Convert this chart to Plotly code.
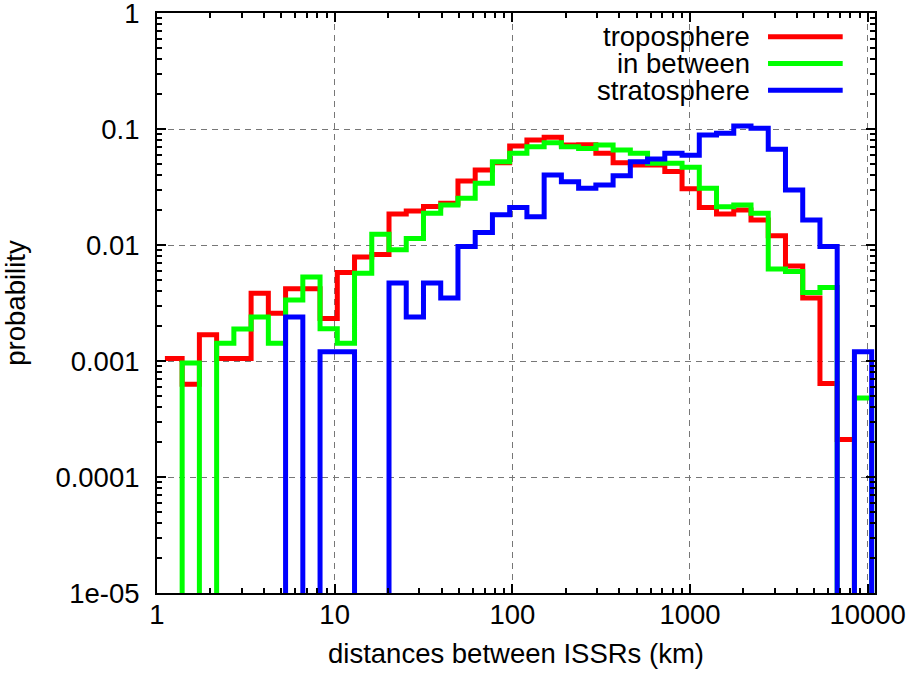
import numpy as np
import plotly.graph_objects as go

# ---- data ----
first_edge_km = 1.108
last_edge_km = 10535.0
n_bins = 41

troposphere = [0.00105, 0.00063, 0.00168, 0.00105, 0.00105, 0.00383, 0.00258, 0.0042, 0.0042, 0.00233,
               0.0058, 0.0079, 0.0083, 0.0185, 0.0196, 0.0215, 0.0229, 0.0356, 0.0443, 0.0513,
               0.0714, 0.0804, 0.0848, 0.0728, 0.073, 0.0617, 0.0513, 0.049, 0.049, 0.043,
               0.0305, 0.021, 0.0185, 0.020, 0.0164, 0.012, 0.0066, 0.0035, 0.00064, 0.00021,
               0.0]
in_between = [0.0, 0.00096, 0.0, 0.00142, 0.00189, 0.0024, 0.00142, 0.00336, 0.0053, 0.0019,
              0.00142, 0.0057, 0.0124, 0.0091, 0.0114, 0.0188, 0.0221, 0.0253, 0.034, 0.0523,
              0.0617, 0.0704, 0.0762, 0.0704, 0.068, 0.0728, 0.0658, 0.0617, 0.0506, 0.0506,
              0.0468, 0.0308, 0.0214, 0.0221, 0.0188, 0.0062, 0.0059, 0.0039, 0.0043, 0.0,
              0.00048]
stratosphere = [0.0, 0.0, 0.0, 0.0, 0.0, 0.0, 0.0, 0.0024, 0.0, 0.0012,
                0.0012, 0.0, 0.0, 0.0047, 0.0024, 0.0047, 0.0035, 0.0097, 0.0128, 0.0182,
                0.0211, 0.0175, 0.0401, 0.0351, 0.0308, 0.0329, 0.0395, 0.0523, 0.055, 0.0617,
                0.0595, 0.0888, 0.0918, 0.106, 0.1014, 0.0668, 0.0298, 0.0164, 0.0097, 0.0,
                0.0012]

series_names = ["troposphere", "in between", "stratosphere"]
series_colors = ["#ff0000", "#00ff00", "#0000ff"]

x_tick_vals = [1, 10, 100, 1000, 10000]
x_tick_text = ["1", "10", "100", "1000", "10000"]
y_tick_vals = [1e-5, 1e-4, 1e-3, 1e-2, 1e-1, 1]
y_tick_text = ["1e-05", "0.0001", "0.001", "0.01", "0.1", "1"]

# ---- figure ----
edges = np.geomspace(first_edge_km, last_edge_km, n_bins + 1)
FLOOR = 1e-9  # empty bins drop below the visible range
FONT = "Liberation Sans, Arial, Helvetica, sans-serif"
FS = 27.5

fig = go.Figure()
for name, vals, col in zip(series_names, [troposphere, in_between, stratosphere], series_colors):
    y = [v if v > 0 else FLOOR for v in vals] + [FLOOR]
    fig.add_trace(go.Scatter(x=edges, y=y, mode="lines", line_shape="hv",
                             line=dict(color=col, width=5), name=name, showlegend=False))

# gnuplot-style key: right-aligned text followed by a line sample
key_y = [0.959, 0.913, 0.867]
for name, col, ky in zip(series_names, series_colors, key_y):
    fig.add_annotation(x=0.829, y=ky, xref="paper", yref="paper", text=name, showarrow=False,
                       xanchor="right", yanchor="middle", font=dict(family=FONT, size=FS, color="black"))
    fig.add_shape(type="line", xref="paper", yref="paper", x0=0.851, x1=0.955, y0=ky, y1=ky,
                  line=dict(color=col, width=5))

axis_common = dict(
    showline=True, linecolor="black", linewidth=2, mirror="ticks",
    ticks="inside", ticklen=9, tickwidth=1.5, tickcolor="black",
    showgrid=True, gridcolor="#777777", gridwidth=1.3, griddash="6px,5px",
    zeroline=False, tickfont=dict(family=FONT, size=FS, color="black"),
    ticklabeloverflow="allow",
    minor=dict(ticks="inside", ticklen=5, tickwidth=1.5, tickcolor="black", dtick="D1", showgrid=False),
)

fig.update_xaxes(type="log", range=[0, np.log10(11000)], tickmode="array",
                 tickvals=x_tick_vals, ticktext=x_tick_text, ticklabelstandoff=-4,
                 title=dict(text="distances between ISSRs (km)", font=dict(family=FONT, size=FS, color="black"),
                            standoff=15),
                 **axis_common)
fig.update_yaxes(type="log", range=[-5, 0], tickmode="array",
                 tickvals=y_tick_vals, ticktext=y_tick_text, ticklabelstandoff=10,
                 title=dict(text="probability", font=dict(family=FONT, size=FS, color="black"),
                            standoff=30),
                 **axis_common)

fig.update_layout(width=912, height=675, margin=dict(l=157, r=37, t=13, b=82, autoexpand=False),
                  plot_bgcolor="white", paper_bgcolor="white",
                  font=dict(family=FONT, size=FS, color="black"))

fig.write_html("out.html", config={"displayModeBar": False},
               post_script="document.body.style.margin='0px';document.body.style.overflow='hidden';")
